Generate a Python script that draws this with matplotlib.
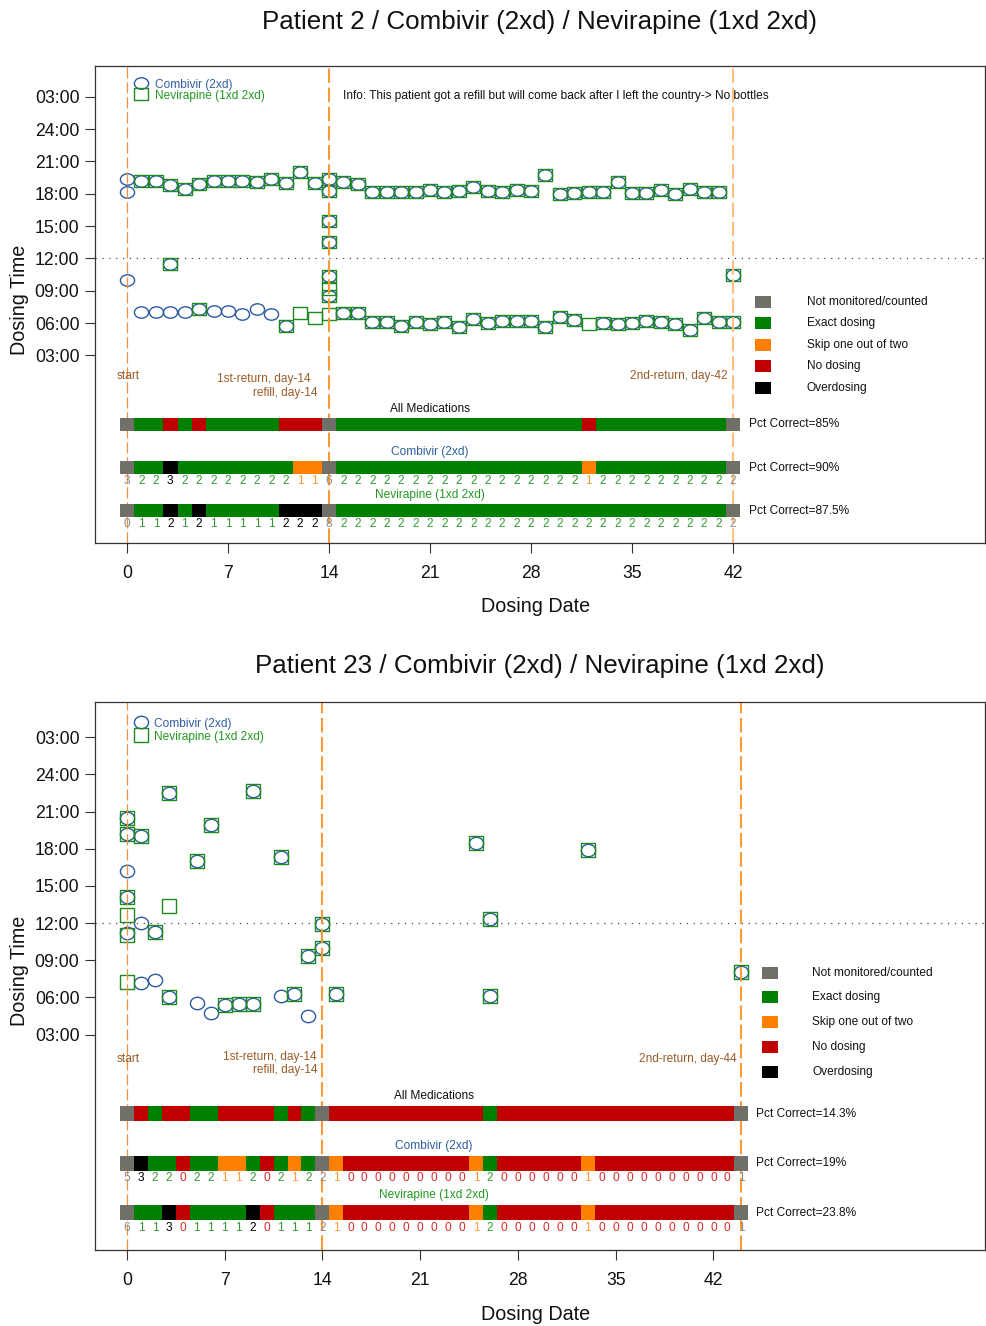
import matplotlib
matplotlib.use('Agg')
import matplotlib.pyplot as plt
from matplotlib.path import Path

plt.rcParams['font.family'] = ['Liberation Sans', 'DejaVu Sans']

# ---------------- data ----------------
STATUS_LABELS = ['Not monitored/counted', 'Exact dosing', 'Skip one out of two',
                 'No dosing', 'Overdosing']
STATUS_COLORS = ['#707068', '#008000', '#ff8000', '#c00000', '#000000']
STATUS_TEXT_COLORS = ['#8c8c86', '#339933', '#ff9a33', '#d42a2a', '#000000']

MED_NAMES = ['Combivir (2xd)', 'Nevirapine (1xd 2xd)']
TIME_TICKS = [3, 6, 9, 12, 15, 18, 21, 24, 27]
TIME_LABELS = ['03:00', '06:00', '09:00', '12:00', '15:00', '18:00', '21:00', '24:00', '03:00']
DAY_TICKS = [0, 7, 14, 21, 28, 35, 42]

# Patient 2: dose times (hours) per day, day 0 .. 42
P2_TITLE = 'Patient 2 / Combivir (2xd) / Nevirapine (1xd 2xd)'
P2_VISITS = [0, 14, 42]
P2_COMBIVIR = [
    [19.37, 18.12, 10.03], [19.15, 7.05], [19.15, 7.05], [18.84, 11.52, 7.05],
    [18.43, 7.05], [18.90, 7.27], [19.18, 7.15], [19.20, 7.15], [19.18, 6.88],
    [19.05, 7.32], [19.33, 6.88], [19.02, 5.72], [19.98], [19.02],
    [19.37, 18.21, 15.49, 13.53, 10.37, 8.50],
    [19.05, 6.96], [18.90, 6.96], [18.12, 6.12], [18.12, 6.12], [18.19, 5.72],
    [18.19, 6.12], [18.37, 5.88], [18.12, 6.12], [18.28, 5.63], [18.65, 6.34],
    [18.22, 6.03], [18.19, 6.19], [18.34, 6.19], [18.22, 6.19], [19.77, 5.63],
    [18.00, 6.59], [18.06, 6.28], [18.12], [18.12, 5.97], [19.12, 5.88],
    [18.03, 6.03], [18.03, 6.19], [18.34, 6.12], [18.00, 5.94], [18.43, 5.32],
    [18.19, 6.43], [18.12, 6.09], [10.47, 6.09],
]
P2_NEVIRAPINE = [
    [], [19.15], [19.15], [18.84, 11.52], [18.43], [18.90, 7.27], [19.18],
    [19.20], [19.18], [19.05], [19.33], [19.02, 5.72], [19.98, 6.90], [19.02, 6.45],
    [19.37, 18.21, 15.49, 13.53, 10.37, 9.13, 8.50, 6.86],
    [19.05, 6.96], [18.90, 6.96], [18.12, 6.12], [18.12, 6.12], [18.19, 5.72],
    [18.19, 6.12], [18.37, 5.88], [18.12, 6.12], [18.28, 5.63], [18.65, 6.34],
    [18.22, 6.03], [18.19, 6.19], [18.34, 6.19], [18.22, 6.19], [19.77, 5.63],
    [18.00, 6.59], [18.06, 6.28], [18.12, 5.94], [18.12, 5.97], [19.12, 5.88],
    [18.03, 6.03], [18.03, 6.19], [18.34, 6.12], [18.00, 5.94], [18.43, 5.32],
    [18.19, 6.43], [18.12, 6.09], [10.47, 6.09],
]
P2_INFO = 'Info: This patient got a refill but will come back after I left the country-> No bottles'
P2_NOTES = ['start', '1st-return, day-14', 'refill, day-14', '2nd-return, day-42']

# Patient 23: dose times (hours) per day, day 0 .. 44
P23_TITLE = 'Patient 23 / Combivir (2xd) / Nevirapine (1xd 2xd)'
P23_VISITS = [0, 14, 44]
P23_COMBIVIR = [
    [20.52, 19.18, 16.23, 14.13, 11.23], [19.05, 11.98, 7.19], [11.31, 7.41],
    [22.54, 6.06], [], [17.03, 5.53], [19.90, 4.72], [5.39], [5.44],
    [22.68, 5.47], [], [17.30, 6.15], [6.28], [9.37, 4.53], [11.91, 9.96], [6.25],
    [], [], [], [], [], [], [], [], [],
    [18.48], [12.35, 6.15],
    [], [], [], [], [], [],
    [17.92],
    [], [], [], [], [], [], [], [], [], [],
    [8.08],
]
P23_NEVIRAPINE = [
    [20.52, 19.18, 14.13, 12.65, 11.04, 7.27], [19.05], [11.31],
    [22.54, 13.38, 6.06], [], [17.03], [19.90], [5.39], [5.44],
    [22.68, 5.47], [], [17.30], [6.28], [9.37], [11.91, 9.96], [6.25],
    [], [], [], [], [], [], [], [], [],
    [18.48], [12.35, 6.15],
    [], [], [], [], [], [],
    [17.92],
    [], [], [], [], [], [], [], [], [], [],
    [8.08],
]
P23_NOTES = ['start', '1st-return, day-14', 'refill, day-14', '2nd-return, day-44']

# ---------------- helpers ----------------
BLUE = '#2a5aa0'
GREEN = '#1e8a1e'
BLUE_TXT = '#2f5f9f'
GREEN_TXT = '#229a22'
NOTE_COL = '#9a5b26'
FS_SMALL = 8.6
MS = 10.2


def ellipse_path(aspect):
    c = Path.unit_circle()
    v = c.vertices.copy()
    v[:, 0] *= aspect
    return Path(v, c.codes)


def rect_path(aspect):
    v = [(-aspect, -1), (aspect, -1), (aspect, 1), (-aspect, 1), (-aspect, -1)]
    codes = [Path.MOVETO, Path.LINETO, Path.LINETO, Path.LINETO, Path.CLOSEPOLY]
    return Path(v, codes)


def expected(med, day):
    if med == 0:
        return 2
    return 1 if day < 14 else 2


def status_of(count, exp, visit):
    if visit:
        return 0
    if count == exp:
        return 1
    if count == 0:
        return 3
    if count > exp:
        return 4
    return 2


def flat(times):
    xs, ys = [], []
    for d, tl in enumerate(times):
        for t in tl:
            xs.append(d)
            ys.append(t)
    return xs, ys


W, H = 986, 1326
fig = plt.figure(figsize=(W / 100, H / 100), dpi=100)


def draw_panel(box, title_y, title, visits, comb, nev, notes, note_pos, info, xlim,
               last_line_color, mk_aspect, sq_aspect):
    left, top, right, bottom = box
    ax = fig.add_axes([left / W, 1 - bottom / H, (right - left) / W, (bottom - top) / H])
    ylim = (-14.4, 29.85)
    ax.set_xlim(*xlim)
    ax.set_ylim(*ylim)
    last = visits[-1]
    ndays = last + 1

    # reference lines
    ax.axhline(12, color='#444444', lw=0.9, ls=(0, (1, 4.5)), zorder=1)
    ax.axvline(visits[0], color='#f39040', lw=0.9, ls=(0, (9, 3)), zorder=2.5)
    ax.axvline(visits[1], color='#ff9933', lw=1.5, ls=(0, (7, 2.2)), zorder=2.5)
    ax.axvline(visits[2], color=last_line_color, lw=1.5, ls=(0, (7, 2.2)), zorder=2.5)

    # dose points
    cx, cy = flat(comb)
    nx, ny = flat(nev)
    ax.plot(cx, cy, ls='none', marker=ellipse_path(mk_aspect), ms=MS,
            mfc='none', mec=BLUE, mew=1.0, zorder=2)
    ax.plot(nx, ny, ls='none', marker=rect_path(sq_aspect), ms=MS,
            mfc='none', mec=GREEN, mew=1.0, zorder=2.1)

    # data legend
    ax.plot([1.0], [28.27], ls='none', marker=ellipse_path(mk_aspect), ms=MS,
            mfc='none', mec=BLUE, mew=1.0)
    ax.plot([1.0], [27.22], ls='none', marker=rect_path(sq_aspect), ms=MS,
            mfc='none', mec=GREEN, mew=1.0)
    ax.text(1.95, 28.08, MED_NAMES[0], color=BLUE_TXT, fontsize=FS_SMALL, va='center', ha='left')
    ax.text(1.95, 27.05, MED_NAMES[1], color=GREEN_TXT, fontsize=FS_SMALL, va='center', ha='left')
    if info:
        ax.text(15.0, 27.1, info, color='#111111', fontsize=FS_SMALL, va='center', ha='left')

    # notes
    (sx, sy), (rx, ry), (fx, fy), (ex, ey) = note_pos
    ax.text(sx, sy, notes[0], color=NOTE_COL, fontsize=FS_SMALL, ha='center', va='center')
    ax.text(rx, ry, notes[1], color=NOTE_COL, fontsize=FS_SMALL, ha='right', va='center')
    ax.text(fx, fy, notes[2], color=NOTE_COL, fontsize=FS_SMALL, ha='right', va='center')
    ax.text(ex, ey, notes[3], color=NOTE_COL, fontsize=FS_SMALL, ha='right', va='center')

    # statuses
    meds = [comb, nev]
    stat = []
    for m, times in enumerate(meds):
        stat.append([status_of(len(times[d]), expected(m, d), d in visits) for d in range(ndays)])
    allstat = []
    for d in range(ndays):
        if d in visits:
            allstat.append(0)
        elif all(stat[m][d] == 1 for m in range(2)):
            allstat.append(1)
        else:
            allstat.append(3)

    rows = [('All Medications', '#111111', allstat, None, -3.4),
            (MED_NAMES[0], BLUE_TXT, stat[0], comb, -7.4),
            (MED_NAMES[1], GREEN_TXT, stat[1], nev, -11.4)]
    for name, tcol, st, times, yc in rows:
        ax.barh([yc] * ndays, [1] * ndays, left=[d - 0.5 for d in range(ndays)],
                height=1.2, color=[STATUS_COLORS[s] for s in st], linewidth=0, zorder=3)
        ax.text(last / 2, yc + 1.42, name, color=tcol, fontsize=FS_SMALL, ha='center', va='center')
        counted = [s for d, s in enumerate(st) if d not in visits]
        pct = 100.0 * sum(1 for s in counted if s == 1) / len(counted)
        ax.text(last + 1.08, yc, 'Pct Correct=%s%%' % format(round(pct, 1), 'g'),
                color='#111111', fontsize=FS_SMALL, ha='left', va='center')
        if times is not None:
            for d in range(ndays):
                ax.text(d, yc - 1.22, str(len(times[d])), color=STATUS_TEXT_COLORS[st[d]],
                        fontsize=FS_SMALL, ha='center', va='center', zorder=4)

    # status legend
    for i, (lab, col) in enumerate(zip(STATUS_LABELS, STATUS_COLORS)):
        yy = 8 - 2 * i
        ax.plot([last + 2.07], [yy], ls='none', marker=rect_path(1.36), ms=12.0,
                mfc=col, mec=col, mew=0)
        ax.text(last + 5.1, yy, lab, color='#111111', fontsize=FS_SMALL, ha='left', va='center')

    # axes styling
    ax.set_yticks(TIME_TICKS)
    ax.set_yticklabels(TIME_LABELS)
    ax.set_xticks(DAY_TICKS)
    ax.tick_params(axis='both', direction='out', length=7.2, width=0.8, color='#333333',
                   labelsize=12.7, labelcolor='#111111')
    ax.tick_params(axis='y', pad=4.0)
    ax.tick_params(axis='x', pad=8.5)
    for sp in ax.spines.values():
        sp.set_color('#333333')
        sp.set_linewidth(0.9)

    # titles and axis labels
    fig.text(540 / W, 1 - title_y / H, title, ha='center', va='center', fontsize=18.7, color='#111111')
    fig.text(536 / W, 1 - (bottom + 64) / H, 'Dosing Date', ha='center', va='center',
             fontsize=14.2, color='#111111')
    fig.text(20 / W, 1 - ((top + bottom) / 2 - 5) / H, 'Dosing Time', ha='center', va='center',
             rotation=90, fontsize=14.2, color='#111111')
    return ax


draw_panel((95, 66, 985, 543), 22, P2_TITLE, P2_VISITS, P2_COMBIVIR, P2_NEVIRAPINE,
           P2_NOTES, [(0.05, 1.05), (12.75, 0.77), (13.17, -0.44), (41.65, 1.05)],
           P2_INFO, (-2.218, 59.46), '#ffbf80', 1.24, 1.24)

draw_panel((95, 702, 985, 1250), 666, P23_TITLE, P23_VISITS, P23_COMBIVIR, P23_NEVIRAPINE,
           P23_NOTES, [(0.08, 1.06), (13.55, 1.15), (13.66, 0.10), (43.65, 1.06)],
           None, (-2.29, 61.46), '#ff9933', 1.14, 1.05)

fig.savefig('out.png', dpi=100)
